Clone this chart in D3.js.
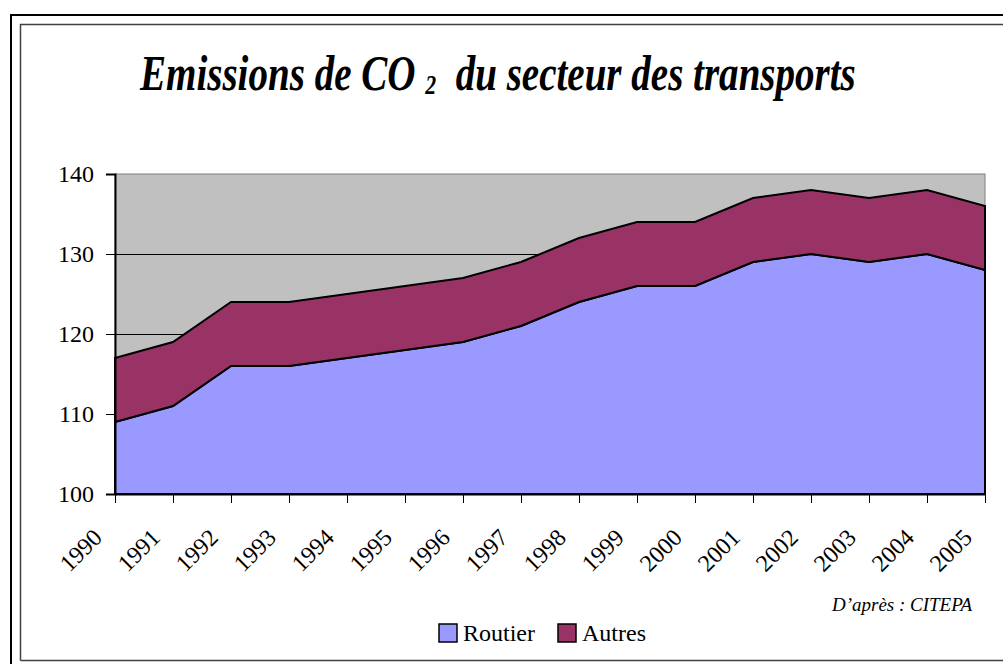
<!DOCTYPE html>
<html>
<head>
<meta charset="utf-8">
<script src="https://d3js.org/d3.v7.min.js"></script>
<style>
  html, body { margin: 0; padding: 0; background: #fff; overflow: hidden; }
  svg { display: block; }
  text { font-family: "Liberation Serif", "Times New Roman", serif; fill: #000; }
</style>
</head>
<body>
<div id="chart"></div>
<script>
  // CO2 emissions of the transport sector (Mt)
  const years = ["1990", "1991", "1992", "1993", "1994", "1995", "1996", "1997",
                 "1998", "1999", "2000", "2001", "2002", "2003", "2004", "2005"];
  const routier = [109, 111, 116, 116, 117, 118, 119, 121, 124, 126, 126, 129, 130, 129, 130, 128];
  const autres  = [8, 8, 8, 8, 8, 8, 8, 8, 8, 8, 8, 8, 8, 8, 8, 8];
  const seriesNames = ["Routier", "Autres"];
  const seriesColors = ["#9999FF", "#993366"];
  const yTicks = [100, 110, 120, 130, 140];

  const width = 1003, height = 664;
  const plot = { left: 115, right: 985, top: 174, bottom: 494 };

  const svg = d3.select("#chart").append("svg")
    .attr("width", width).attr("height", height);

  // frames (outer black, inner grey) - only left/top/bottom are inside the picture
  svg.append("path").attr("d", "M11,664 V15 H1003")
    .attr("fill", "none").attr("stroke", "#000").attr("stroke-width", 2);
  svg.append("path").attr("d", "M20.5,660.5 V24.5 H1003 M20.5,660.5 H1003")
    .attr("fill", "none").attr("stroke", "#404040").attr("stroke-width", 1.5);

  const x = d3.scalePoint().domain(years).range([plot.left, plot.right]);
  const y = d3.scaleLinear().domain([100, 140]).range([plot.bottom, plot.top]);

  // plot background
  svg.append("rect")
    .attr("x", plot.left).attr("y", plot.top)
    .attr("width", plot.right - plot.left).attr("height", plot.bottom - plot.top)
    .attr("fill", "#C0C0C0").attr("stroke", "#808080").attr("stroke-width", 1);

  // gridlines
  svg.append("g").selectAll("line")
    .data(yTicks.filter(d => d > 100 && d < 140))
    .enter().append("line")
    .attr("x1", plot.left).attr("x2", plot.right)
    .attr("y1", d => Math.round(y(d)) + 0.5).attr("y2", d => Math.round(y(d)) + 0.5)
    .attr("stroke", "#000").attr("stroke-width", 1);

  // stacked areas
  const table = years.map((yr, i) => ({ year: yr, Routier: routier[i], Autres: autres[i] }));
  const stacked = d3.stack().keys(seriesNames)(table);

  // the axis starts at 100, so the first band is clipped there
  const area = d3.area()
    .x(d => x(d.data.year))
    .y0(d => y(Math.max(d[0], 100)))
    .y1(d => y(d[1]));

  svg.append("g").selectAll("path")
    .data(stacked)
    .enter().append("path")
    .attr("d", area)
    .attr("fill", (d, i) => seriesColors[i])
    .attr("stroke", "#000")
    .attr("stroke-width", 2)
    .attr("stroke-linejoin", "miter");

  // y axis
  const yAxis = svg.append("g")
    .attr("transform", `translate(${plot.left},0)`)
    .call(d3.axisLeft(y).tickValues(yTicks).tickSize(9).tickPadding(12).tickFormat(d3.format("d")));
  yAxis.select(".domain").attr("stroke", "#000").attr("stroke-width", 2);
  yAxis.selectAll(".tick line").attr("stroke", "#000");
  yAxis.selectAll("text").style("font-size", "24px").attr("fill", "#000");

  // x axis, labels turned 45 degrees
  const xAxis = svg.append("g")
    .attr("transform", `translate(0,${plot.bottom})`)
    .call(d3.axisBottom(x).tickSize(9).tickSizeOuter(0));
  xAxis.select(".domain").attr("stroke", "#000").attr("stroke-width", 2);
  xAxis.selectAll(".tick line").attr("stroke", "#000");
  xAxis.selectAll("text")
    .style("font-size", "24px").attr("fill", "#000")
    .attr("text-anchor", "end")
    .attr("dy", null)
    .attr("y", null)
    .attr("transform", "translate(-12,45) rotate(-45)");

  // title, squeezed horizontally like the original
  const title = svg.append("g");
  const tt = title.append("text").attr("xml:space", "preserve")
    .style("font-size", "50px").style("font-weight", "bold").style("font-style", "italic");
  tt.append("tspan").text("Emissions de CO ");
  tt.append("tspan").text("2").style("font-size", "28px").attr("dy", 4);
  tt.append("tspan").text("  du secteur des transports").attr("dy", -4);
  const natural = tt.node().getComputedTextLength();
  title.attr("transform", `translate(140,90) scale(${716 / natural},1)`);

  // source
  svg.append("text")
    .attr("x", 972).attr("y", 611)
    .attr("text-anchor", "end")
    .style("font-size", "19px").style("font-style", "italic")
    .text("D\u2019apr\u00e8s : CITEPA");

  // legend
  const legend = svg.append("g").attr("transform", "translate(439,624)");
  const legX = [0, 119];
  seriesNames.forEach((name, i) => {
    const g = legend.append("g").attr("transform", `translate(${legX[i]},0)`);
    g.append("rect").attr("width", 18).attr("height", 18)
      .attr("fill", seriesColors[i]).attr("stroke", "#000").attr("stroke-width", 1.5);
    g.append("text").attr("x", 24).attr("y", 17)
      .style("font-size", "24px").text(name);
  });
</script>
</body>
</html>
